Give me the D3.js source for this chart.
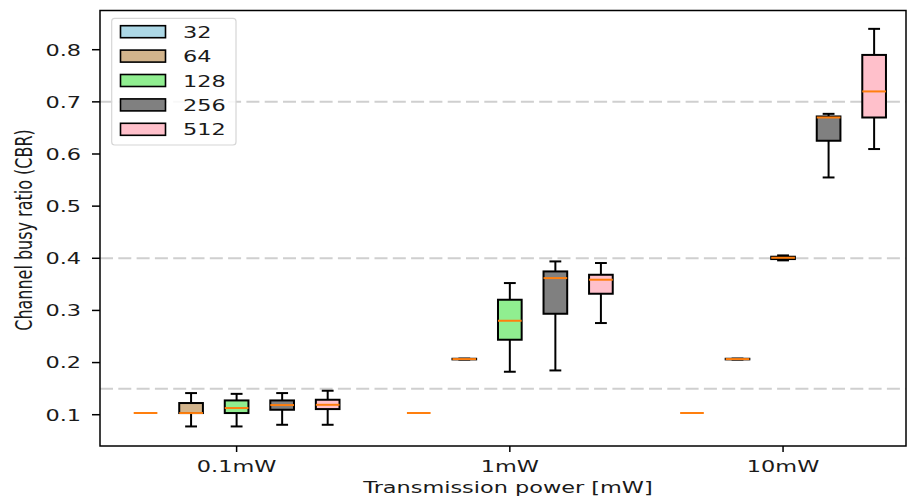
<!DOCTYPE html>
<html>
<head>
<meta charset="utf-8">
<script src="https://cdn.jsdelivr.net/npm/d3@7"></script>
<style>
  html, body { margin: 0; padding: 0; background: #fff; }
  svg { display: block; }
  text { font-family: "DejaVu Sans", sans-serif; fill: #1a1a1a; }
</style>
</head>
<body>
<div id="chart"></div>
<script>
// Transmission power levels and packet-size series
const powers = ["0.1mW", "1mW", "10mW"];
const sizes = ["32", "64", "128", "256", "512"];
const fills = ["#add8e6", "#d2b48c", "#90ee90", "#808080", "#ffc0cb"];

// Five-number summaries per power level: [low whisker, q1, median, q3, high whisker]
const cbr32  = [[0.1033, 0.1033, 0.1033, 0.1033, 0.1033],
                [0.1033, 0.1033, 0.1033, 0.1033, 0.1033],
                [0.1033, 0.1033, 0.1033, 0.1033, 0.1033]];
const cbr64  = [[0.0775, 0.1032, 0.1032, 0.1224, 0.1415],
                [0.2058, 0.2061, 0.2067, 0.2073, 0.2076],
                [0.2058, 0.2061, 0.2067, 0.2073, 0.2076]];
const cbr128 = [[0.0775, 0.1032, 0.1128, 0.1274, 0.1400],
                [0.1824, 0.2438, 0.2802, 0.3205, 0.3525],
                [0.3960, 0.3985, 0.4010, 0.4030, 0.4055]];
const cbr256 = [[0.0807, 0.1095, 0.1185, 0.1274, 0.1415],
                [0.1849, 0.2936, 0.3620, 0.3748, 0.3940],
                [0.5550, 0.6254, 0.6700, 0.6720, 0.6770]];
const cbr512 = [[0.0807, 0.1108, 0.1190, 0.1287, 0.1460],
                [0.2758, 0.3320, 0.3589, 0.3684, 0.3909],
                [0.6095, 0.6700, 0.7200, 0.7900, 0.8400]];
const series = [cbr32, cbr64, cbr128, cbr256, cbr512];

const yTicks = [0.1, 0.2, 0.3, 0.4, 0.5, 0.6, 0.7, 0.8];
const refLines = [0.15, 0.4, 0.7];

// Layout
const W = 908, H = 498;
const plot = { left: 100, right: 906, top: 10.5, bottom: 446 };
const SX = 1.4;          // horizontal stretch applied to text glyphs
const FONT = 16;
const GROUP_STEP = 6;    // slots per power level
const BOX_W = 0.52;      // box width in slot units

const x = d3.scaleLinear().domain([0, 17.7]).range([plot.left, plot.right]);
const y = d3.scaleLinear().domain([0.04, 0.8752]).range([plot.bottom, plot.top]);
const slot = (p, s) => p * GROUP_STEP + s + 1;
const groupCenter = p => slot(p, 2);

const svg = d3.select("#chart").append("svg").attr("width", W).attr("height", H);

function stretchedText(parent, tx, ty, str, anchor, extra) {
  return parent.append("text")
    .attr("transform", `translate(${tx},${ty}) scale(${SX},1)` + (extra || ""))
    .attr("text-anchor", anchor)
    .attr("font-size", FONT)
    .text(str);
}

// Dashed reference lines
svg.append("g").selectAll("line").data(refLines).join("line")
  .attr("x1", plot.left).attr("x2", plot.right)
  .attr("y1", d => y(d)).attr("y2", d => y(d))
  .attr("stroke", "#cfcfcf").attr("stroke-width", 2)
  .attr("stroke-dasharray", "13,5.3");

// Boxes
const boxes = [];
series.forEach((ser, si) => ser.forEach((st, pi) => boxes.push({ si, pi, st })));

const bw = x(BOX_W) - x(0);
const capW = bw / 2;
const gBox = svg.append("g");
boxes.forEach(b => {
  const cx = x(slot(b.pi, b.si));
  const [lo, q1, med, q3, hi] = b.st;
  const g = gBox.append("g");
  // whiskers
  g.append("line").attr("x1", cx).attr("x2", cx).attr("y1", y(q3)).attr("y2", y(hi))
    .attr("stroke", "#000").attr("stroke-width", 2);
  g.append("line").attr("x1", cx).attr("x2", cx).attr("y1", y(q1)).attr("y2", y(lo))
    .attr("stroke", "#000").attr("stroke-width", 2);
  // caps
  [lo, hi].forEach(v => g.append("line")
    .attr("x1", cx - capW / 2).attr("x2", cx + capW / 2)
    .attr("y1", y(v)).attr("y2", y(v))
    .attr("stroke", "#000").attr("stroke-width", 2));
  // box
  g.append("rect")
    .attr("x", cx - bw / 2).attr("width", bw)
    .attr("y", y(q3)).attr("height", Math.max(0, y(q1) - y(q3)))
    .attr("fill", fills[b.si]).attr("stroke", "#000").attr("stroke-width", 2);
  // median
  g.append("line").attr("x1", cx - bw / 2).attr("x2", cx + bw / 2)
    .attr("y1", y(med)).attr("y2", y(med))
    .attr("stroke", "#ff7f0e").attr("stroke-width", 2);
});

// Frame
svg.append("rect")
  .attr("x", plot.left).attr("y", plot.top)
  .attr("width", plot.right - plot.left).attr("height", plot.bottom - plot.top)
  .attr("fill", "none").attr("stroke", "#000").attr("stroke-width", 1.5);

// Y axis ticks and labels
const gy = svg.append("g");
yTicks.forEach(t => {
  gy.append("line").attr("x1", plot.left - 8).attr("x2", plot.left)
    .attr("y1", y(t)).attr("y2", y(t)).attr("stroke", "#000").attr("stroke-width", 1.5);
  stretchedText(gy, plot.left - 19, y(t) + 5.8, d3.format(".1f")(t), "end");
});

// X axis ticks and labels
const gx = svg.append("g");
powers.forEach((p, i) => {
  const cx = x(groupCenter(i));
  gx.append("line").attr("x1", cx).attr("x2", cx)
    .attr("y1", plot.bottom).attr("y2", plot.bottom + 6)
    .attr("stroke", "#000").attr("stroke-width", 1.5);
  stretchedText(gx, cx, 472, p, "middle");
});

// Axis titles
stretchedText(svg, 508, 493, "Transmission power [mW]", "middle");
svg.append("text")
  .attr("transform", `translate(31.5,230) scale(${SX},1) rotate(-90)`)
  .attr("text-anchor", "middle").attr("font-size", FONT)
  .text("Channel busy ratio (CBR)");

// Legend
const leg = svg.append("g");
leg.append("rect")
  .attr("x", 111.7).attr("y", 18.3).attr("width", 124.3).attr("height", 126.7)
  .attr("rx", 3).attr("fill", "#fff").attr("fill-opacity", 0.85)
  .attr("stroke", "#d6d6d6").attr("stroke-width", 1.2);
sizes.forEach((s, i) => {
  const cy = 31.7 + i * 24.4;
  leg.append("rect")
    .attr("x", 120.5).attr("y", cy - 6).attr("width", 45).attr("height", 12)
    .attr("fill", fills[i]).attr("stroke", "#000").attr("stroke-width", 1.6);
  stretchedText(leg, 183, cy + 6, s, "start");
});
</script>
</body>
</html>
